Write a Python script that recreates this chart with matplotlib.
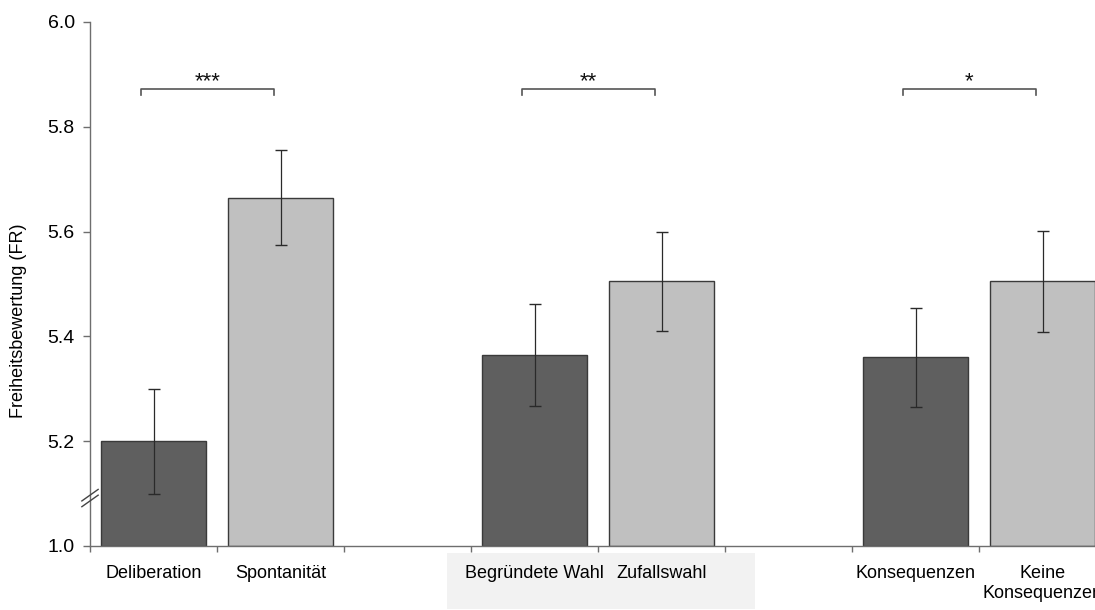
import matplotlib.pyplot as plt
from matplotlib.patches import Rectangle

# Data
categories = ['Deliberation', 'Spontanität', 'Begründete Wahl', 'Zufallswahl',
              'Konsequenzen', 'Keine\nKonsequenzen']
means = [5.20, 5.665, 5.365, 5.505, 5.36, 5.505]
errors = [0.10, 0.09, 0.097, 0.094, 0.094, 0.097]
slots = [0, 1, 3, 4, 6, 7]          # slot index of each bar on the x axis
pairs = [(0, 1), (2, 3), (4, 5)]     # bar pairs compared
stars = ['***', '**', '*']
bracket_y = 5.872

y_ticks = [5.0, 5.2, 5.4, 5.6, 5.8, 6.0]
y_ticklabels = ['1.0', '5.2', '5.4', '5.6', '5.8', '6.0']
base = 5.0  # axis is broken: bottom of the axis stands for 1.0

plt.rcParams['font.family'] = ['Liberation Sans', 'DejaVu Sans']

fig = plt.figure(figsize=(10.95, 6.10), dpi=100)
ax = fig.add_axes([90 / 1095, 64 / 610, 1016 / 1095, 524 / 610])

# grey box behind the middle labels
fig.patches.append(Rectangle((447 / 1095, 1 / 610), 308 / 1095, 56 / 610,
                             transform=fig.transFigure, facecolor='#f2f2f2',
                             edgecolor='none', zorder=-1))

dark = '#5f5f5f'
light = '#c0c0c0'
colors = [dark, light, dark, light, dark, light]
centers = [s + 0.5 for s in slots]

ax.bar(centers, [m - base for m in means], bottom=base, width=0.83,
       color=colors, edgecolor='#3a3a3a', linewidth=1.0, zorder=2)
ax.errorbar(centers, means, yerr=errors, fmt='none', ecolor='#2a2a2a',
            elinewidth=0.9, capsize=4, capthick=1.0, zorder=3)

# significance brackets
for (i, j), s in zip(pairs, stars):
    x1 = centers[i] - 0.10
    x2 = centers[j] - 0.05
    ax.plot([x1, x1, x2, x2], [bracket_y - 0.012, bracket_y, bracket_y, bracket_y - 0.012],
            color='#555555', lw=1.2, zorder=3)
    ax.text((x1 + x2) / 2, bracket_y - 0.006, s, ha='center', va='bottom',
            fontsize=16, color='#111111')

ax.set_xlim(0, 8)
ax.set_ylim(5.0, 6.0)
ax.set_yticks(y_ticks)
ax.set_yticklabels(y_ticklabels)
ax.set_xticks(range(9))
ax.set_xticklabels([''] * 9)
ax.set_xticks(centers, minor=True)
ax.set_xticklabels(categories, minor=True)
ax.tick_params(axis='x', which='minor', length=0, pad=14, labelsize=13)
ax.tick_params(axis='x', which='major', length=4, color='#6e6e6e', width=1)
ax.tick_params(axis='y', length=5, pad=6, labelsize=14, color='#6e6e6e', width=1)

for side in ['top', 'right']:
    ax.spines[side].set_visible(False)
for side in ['left', 'bottom']:
    ax.spines[side].set_color('#6e6e6e')
    ax.spines[side].set_linewidth(1.0)

ax.set_ylabel('Freiheitsbewertung (FR)', fontsize=13)
ax.yaxis.set_label_coords(-0.062, 0.43)

# axis break marks
for dy in (0.0, 0.011):
    ax.plot([-0.008, 0.008], [0.075 + dy, 0.097 + dy], transform=ax.transAxes,
            color='#444444', lw=1.0, clip_on=False, zorder=4)

plt.savefig('out.png', dpi=100)
